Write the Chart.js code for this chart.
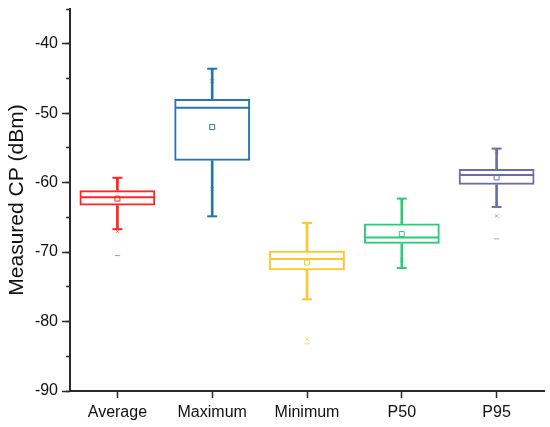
<!DOCTYPE html>
<html>
<head>
<meta charset="utf-8">
<script src="https://cdn.jsdelivr.net/npm/chart.js@4"></script>
<style>
  html, body { margin: 0; padding: 0; background: #fff; }
  #wrap { width: 550px; height: 427px; }
</style>
</head>
<body>
<div id="wrap"><canvas id="c" width="550" height="427"></canvas></div>
<script>
const categories = ['Average', 'Maximum', 'Minimum', 'P50', 'P95'];
const whiskerHigh = [-59.3, -43.6, -65.8, -62.3, -55.1];
const q3 = [-61.1, -47.95, -69.8, -65.9, -58.05];
const median = [-62.1, -49.2, -71.0, -67.9, -58.9];
const q1 = [-63.3, -56.85, -72.6, -68.8, -60.3];
const whiskerLow = [-66.7, -64.85, -76.8, -72.3, -63.5];
const mean = [-62.3, -52.0, -71.5, -67.4, -59.25];
const p99 = [-59.7, -45.4, -66.2, -62.7, -55.6];
const p1 = [-67.0, -60.9, -82.5, -71.1, -64.8];
const minimum = [-70.5, null, -83.2, null, -68.1];
const yTicks = [-90, -80, -70, -60, -50, -40];

const colors = ['#FF2424', '#2576AE', '#FFC72C', '#2CC97A', '#6C6CA6'];
const faint = ['rgba(255,36,36,0.6)', 'rgba(37,118,174,0.6)', 'rgba(255,199,44,0.7)', 'rgba(44,201,122,0.6)', 'rgba(108,108,166,0.6)'];

const boxData = categories.map((c, i) => [q1[i], q3[i]]);
const upperWhisker = categories.map((c, i) => [q3[i], whiskerHigh[i]]);
const lowerWhisker = categories.map((c, i) => [whiskerLow[i], q1[i]]);

function pts(arr, style, radius, width, col, order) {
  return {
    type: 'line', data: arr, showLine: false, yAxisID: 'y',
    pointStyle: style, pointRadius: radius, pointHoverRadius: radius,
    pointBorderWidth: width, pointBackgroundColor: 'rgba(0,0,0,0)',
    pointBorderColor: col, order: order, clip: false
  };
}

const axisColor = '#2a2a2a';
const font = { family: '"Liberation Sans", Arial, sans-serif', size: 16 };

new Chart(document.getElementById('c'), {
  type: 'bar',
  data: {
    labels: categories,
    datasets: [
      { data: upperWhisker, backgroundColor: colors, borderWidth: 0, barThickness: 2, grouped: false, yAxisID: 'y', order: 10 },
      { data: lowerWhisker, backgroundColor: colors, borderWidth: 0, barThickness: 2, grouped: false, yAxisID: 'y', order: 10 },
      { data: boxData, backgroundColor: 'rgba(255,255,255,0)', borderColor: colors, borderWidth: 2, borderSkipped: false,
        barPercentage: 0.8, categoryPercentage: 1.0, grouped: false, yAxisID: 'y', order: 5 },
      pts(median, 'line', 37, 2, colors, 4),
      pts(whiskerHigh, 'line', 5, 2, colors, 4),
      pts(whiskerLow, 'line', 5, 2, colors, 4),
      pts(mean, 'rect', 3.5, 1, colors, 3),
      pts(p99, 'crossRot', 2.5, 1, faint, 3),
      pts(p1, 'crossRot', 2.5, 1, faint, 3),
      pts(minimum, 'line', 2.5, 1, faint, 3)
    ]
  },
  options: {
    responsive: false,
    animation: false,
    events: [],
    layout: { autoPadding: false, padding: { top: 9, right: 6, left: 0, bottom: 0 } },
    plugins: { legend: { display: false }, tooltip: { enabled: false } },
    scales: {
      x: {
        offset: true,
        grid: { offset: false, drawOnChartArea: false, tickLength: 7, tickWidth: 1.5, tickColor: axisColor },
        border: { display: true, color: axisColor, width: 2 },
        ticks: { color: '#111', font: font, padding: 5 },
        afterFit(s) { s.height = 36; s.paddingLeft = 0; s.paddingRight = 0; }
      },
      y: {
        min: -90, max: -35, weight: 1,
        afterBuildTicks(s) { s.ticks = yTicks.map(v => ({ value: v })); },
        grid: { drawOnChartArea: false, tickLength: 8, tickWidth: 1.5, tickColor: axisColor },
        border: { display: true, color: axisColor, width: 2 },
        ticks: { color: '#111', font: font, padding: 4 },
        title: { display: true, text: 'Measured CP (dBm)', color: '#111',
          font: { family: '"Liberation Sans", Arial, sans-serif', size: 21 }, padding: { top: 5, bottom: 0 } },
        afterFit(s) { s.width = 70; s.paddingTop = 0; s.paddingBottom = 0; }
      },
      y2: {
        min: -90, max: -35, weight: 0, position: 'left',
        ticks: { display: false, stepSize: 5 },
        grid: { drawOnChartArea: false, tickLength: 4, tickWidth: 1.5, tickColor: axisColor },
        border: { display: false },
        afterFit(s) { s.width = 0; s.paddingTop = 0; s.paddingBottom = 0; }
      }
    }
  }
});
</script>
</body>
</html>
